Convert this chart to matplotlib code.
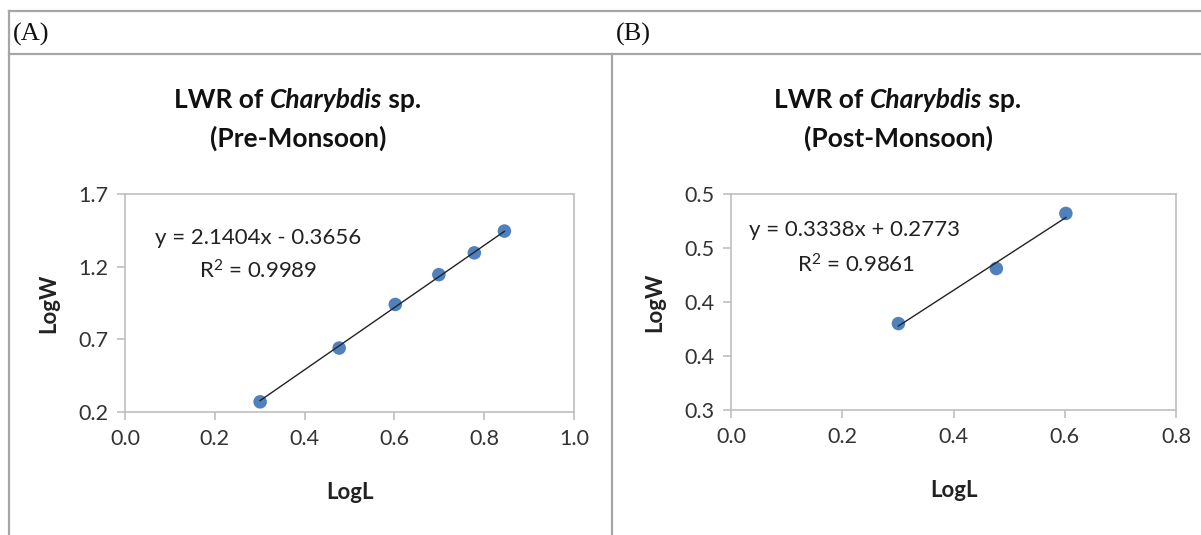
import matplotlib
matplotlib.use("Agg")
import matplotlib.pyplot as plt
from matplotlib.lines import Line2D
from matplotlib import font_manager

# ---------------- data ----------------
pre_logL = [0.301, 0.477, 0.602, 0.699, 0.778, 0.845]
pre_logW = [0.270, 0.640, 0.940, 1.145, 1.295, 1.445]
pre_slope, pre_icept = 2.1404, -0.3656
pre_eq = "y = 2.1404x - 0.3656"
pre_r2 = "R$^2$ = 0.9989"

post_logL = [0.301, 0.477, 0.602]
post_logW = [0.380, 0.431, 0.482]
post_slope, post_icept = 0.3338, 0.2773
post_eq = "y = 0.3338x + 0.2773"
post_r2 = "R$^2$ = 0.9861"

pre_xticks = [0.0, 0.2, 0.4, 0.6, 0.8, 1.0]
pre_yticks = [0.2, 0.7, 1.2, 1.7]
post_xticks = [0.0, 0.2, 0.4, 0.6, 0.8]
post_yticks = [0.30, 0.35, 0.40, 0.45, 0.50]
post_ylabels = ["0.3", "0.4", "0.4", "0.5", "0.5"]

panel_tags = ["(A)", "(B)"]
titles = ["Pre-Monsoon", "Post-Monsoon"]

# ---------------- fonts ----------------
avail = {f.name for f in font_manager.fontManager.ttflist}
SANS = "Liberation Sans Narrow" if "Liberation Sans Narrow" in avail else "Lato"
SERIF = "Liberation Serif"
plt.rcParams["font.family"] = [SANS, "DejaVu Sans"]
plt.rcParams["mathtext.fontset"] = "custom"
plt.rcParams["mathtext.rm"] = SANS
plt.rcParams["mathtext.it"] = SANS + ":italic"
plt.rcParams["mathtext.bf"] = SANS + ":bold"

W, H = 1201, 535
fig = plt.figure(figsize=(W / 100, H / 100), dpi=100)

def fx(px):
    return px / W

def fy(py):
    return 1 - py / H

# table frame lines
gray = "#A6A6A6"
fig.add_artist(Line2D([fx(9), 1], [fy(11), fy(11)], color=gray, lw=1.6))
fig.add_artist(Line2D([fx(9), 1], [fy(54), fy(54)], color=gray, lw=1.6))
fig.add_artist(Line2D([fx(9), fx(9)], [fy(11), 0], color=gray, lw=1.6))
fig.add_artist(Line2D([fx(612), fx(612)], [fy(54), 0], color=gray, lw=1.6))

fig.text(fx(13), fy(34), panel_tags[0], family=SERIF, fontsize=19, va="center", ha="left", color="#111111")
fig.text(fx(616), fy(34), panel_tags[1], family=SERIF, fontsize=19, va="center", ha="left", color="#111111")

ax1 = fig.add_axes([fx(125), fy(412), fx(574) - fx(125), fy(194) - fy(412)])
ax2 = fig.add_axes([fx(731), fy(410), fx(1176) - fx(731), fy(194) - fy(410)])

blue = "#4F81BD"
tickcol = "#333333"
spinecol = "#BFBFBF"

def style(ax, xt, yt, ylabels=None):
    ax.set_xlim(xt[0], xt[-1])
    ax.set_ylim(yt[0], yt[-1])
    ax.set_xticks(xt)
    ax.set_xticklabels([f"{v:.1f}" for v in xt])
    ax.set_yticks(yt)
    ax.set_yticklabels(ylabels if ylabels else [f"{v:.1f}" for v in yt])
    for s in ax.spines.values():
        s.set_color(spinecol)
        s.set_linewidth(1.2)
    ax.tick_params(direction="out", length=6, width=1.2, color=spinecol,
                   labelsize=15.5, labelcolor=tickcol, pad=6)
    ax.set_xlabel("LogL", fontsize=16, fontweight="bold", labelpad=24, color="#222222")
    ax.set_ylabel("LogW", fontsize=16, fontweight="bold", labelpad=14, color="#222222")

for ax, x, y, m, b in [(ax1, pre_logL, pre_logW, pre_slope, pre_icept),
                       (ax2, post_logL, post_logW, post_slope, post_icept)]:
    ax.scatter(x, y, s=95, color=blue, zorder=3, edgecolors="none")
    xs = [x[0], x[-1]]
    ax.plot(xs, [m * v + b for v in xs], color="#222222", lw=1.0, zorder=4)

style(ax1, pre_xticks, pre_yticks)
style(ax2, post_xticks, post_yticks, post_ylabels)

# equations
fig.text(fx(155), fy(238), pre_eq, fontsize=16, color="#222222", va="center", ha="left")
fig.text(fx(199), fy(271), pre_r2, fontsize=16, color="#222222", va="center", ha="left")
fig.text(fx(749), fy(230), post_eq, fontsize=16, color="#222222", va="center", ha="left")
fig.text(fx(797), fy(265), post_r2, fontsize=16, color="#222222", va="center", ha="left")

# titles with italic genus
fig.canvas.draw()
renderer = fig.canvas.get_renderer()

def rich_title(cx, py, parts, size=19):
    arts = []
    for txt, style_ in parts:
        t = fig.text(0, fy(py), txt, fontsize=size, fontweight="bold", fontstyle=style_,
                     va="center", ha="left", color="#111111")
        arts.append(t)
    widths = [a.get_window_extent(renderer).width for a in arts]
    total = sum(widths)
    x = cx - total / 2
    for a, w in zip(arts, widths):
        a.set_x(x / W)
        x += w

for cx, t in [(298, titles[0]), (898, titles[1])]:
    rich_title(cx, 100, [("LWR of ", "normal"), ("Charybdis", "italic"), (" sp.", "normal")])
    fig.text(fx(cx), fy(138), f"({t})", fontsize=19, fontweight="bold", ha="center", va="center", color="#111111")

fig.savefig("out.png", dpi=100)
